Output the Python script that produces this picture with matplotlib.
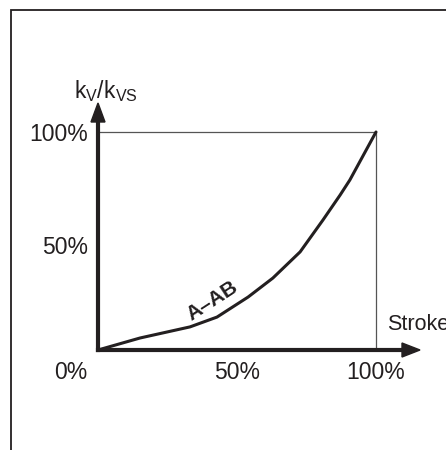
import matplotlib
matplotlib.use("Agg")
import matplotlib.pyplot as plt
from matplotlib.patches import Rectangle, Polygon

plt.rcParams["font.family"] = ["Liberation Sans", "DejaVu Sans"]
plt.rcParams["mathtext.fontset"] = "custom"
plt.rcParams["mathtext.rm"] = "Liberation Sans"
plt.rcParams["mathtext.it"] = "Liberation Sans"

# Valve characteristic A-AB: relative flow kv/kvs versus stroke (%)
stroke = [0, 15.1, 33.1, 42.8, 54.0, 62.9, 72.7, 80.9, 87.1, 90.6, 100]
kv_ratio = [0, 5.5, 10.6, 15.1, 24.3, 33.0, 45.0, 59.6, 71.1, 78.0, 100]
series_label = "A\u2013AB"
x_ticks = [0, 50, 100]
x_tick_labels = ["0%", "50%", "100%"]
y_ticks = [50, 100]
y_tick_labels = ["50%", "100%"]
x_title = "Stroke"
y_title = r"k$_\mathrm{V}$/k$_\mathrm{VS}$"

W, H = 446, 450
fig = plt.figure(figsize=(W / 100, H / 100), dpi=100)
ink = "#231f20"

# outer frame (runs off the right and bottom edges)
fig.patches.append(Rectangle((11 / W, -0.1), 1.2, 1 - 10 / H + 0.1,
                             transform=fig.transFigure, fill=False,
                             edgecolor=ink, linewidth=1.3))

x0, x1 = 98, 376
y0, y1 = 350, 132
ax = fig.add_axes([x0 / W, 1 - y0 / H, (x1 - x0) / W, (y0 - y1) / H])
ax.set_xlim(0, 100)
ax.set_ylim(0, 100)
ax.axis("off")

px = 100 / (x1 - x0)   # data units per pixel, x
py = 100 / (y0 - y1)   # data units per pixel, y

# thin reference box to full stroke / full flow
ax.plot([0, 100, 100], [100, 100, 0], color="#555555", lw=0.9,
        solid_joinstyle="miter", clip_on=False)

# characteristic curve
ax.plot(stroke, kv_ratio, color=ink, lw=2.2, clip_on=False,
        solid_capstyle="round")

# axes with arrow heads
y_tip = (y0 - 103) * py
y_base = (y0 - 122) * py
x_tip = (420 - x0) * px
x_base = (402 - x0) * px
ax.plot([0, 0], [0, y_base], color=ink, lw=3, clip_on=False,
        solid_capstyle="projecting")
ax.plot([0, x_base], [0, 0], color=ink, lw=3, clip_on=False,
        solid_capstyle="projecting")
ax.add_patch(Polygon([(-7 * px, y_base), (7 * px, y_base), (0, y_tip)],
                     closed=True, color=ink, clip_on=False))
ax.add_patch(Polygon([(x_base, -7 * py), (x_base, 7 * py), (x_tip, 0)],
                     closed=True, color=ink, clip_on=False))

fs = 16.5
# y tick labels
for v, lab in zip(y_ticks, y_tick_labels):
    ax.text(-10 * px, v - (2 if v == 50 else 0), lab, ha="right",
            va="center_baseline", fontsize=fs, color=ink, clip_on=False)

# x tick labels
for v, lab in zip(x_ticks, x_tick_labels):
    xpos = v if v != 0 else -27 * px
    ax.text(xpos, -20 * py, lab, ha="center", va="center_baseline",
            fontsize=fs, color=ink, clip_on=False)

# axis titles
ax.text(-24 * px, (y0 - 88) * py, y_title, ha="left", va="center_baseline",
        fontsize=fs, color=ink, clip_on=False)
ax.text((387 - x0) * px, (y0 - 322) * py, x_title, ha="left",
        va="center_baseline", fontsize=15.5, color=ink, clip_on=False)

# series label along the curve
ax.text((212 - x0) * px, (y0 - 301) * py, series_label, ha="center",
        va="center", fontsize=15, fontweight="bold", rotation=33,
        color=ink, clip_on=False)

fig.savefig("out.png", dpi=100)
